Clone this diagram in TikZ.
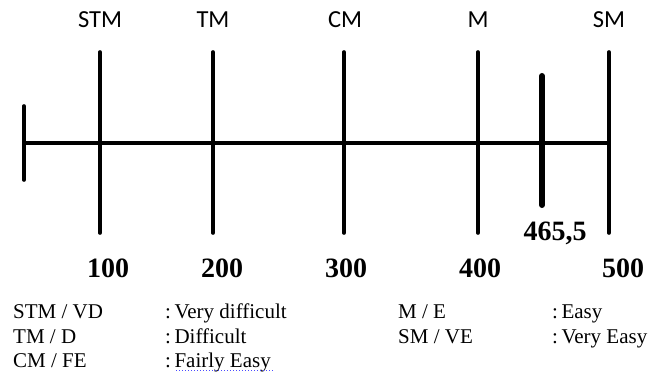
\documentclass[tikz,border=0pt]{standalone}
\usepackage{fontspec}
\setmainfont{Liberation Serif}
\newfontfamily\labelfont{Carlito}
\begin{document}
\begin{tikzpicture}[x=1pt,y=-1pt,
  tick/.style={line width=3.6pt,line cap=round},
  marker/.style={line width=6pt,line cap=round},
  axisline/.style={line width=3.6pt},
  toplabel/.style={anchor=base,inner sep=0pt,font=\labelfont\fontsize{24.5}{28}\selectfont},
  numlabel/.style={anchor=base,inner sep=0pt,font=\bfseries\fontsize{28}{32}\selectfont},
  legend/.style={anchor=base west,inner sep=0pt,font=\fontsize{21}{24}\selectfont}]
\useasboundingbox (0,0) rectangle (650,374);

% scale positions
\coordinate (L0) at (24,143);
\coordinate (L1) at (100,143);
\coordinate (L2) at (213,143);
\coordinate (L3) at (344,143);
\coordinate (L4) at (478,143);
\coordinate (L5) at (609,143);
\coordinate (R) at (542,143);

% main axis
\draw[axisline] (L0) -- (L5);
% start stop
\draw[tick] (24,106) -- (24,180);
% graduations
\foreach \p in {L1,L2,L3,L4,L5}
  \draw[tick] ([yshift=-90]\p) -- ([yshift=91]\p);
% result marker
\draw[marker] (542,76) -- (542,205);

% category labels
\node[toplabel] (tSTM) at (100,28) {STM};
\node[toplabel] (tTM)  at (213,28) {TM};
\node[toplabel] (tCM)  at (345,28) {CM};
\node[toplabel] (tM)   at (478,28) {M};
\node[toplabel] (tSM)  at (609,28) {SM};

% score values
\node[numlabel] (n1) at (108,277) {100};
\node[numlabel] (n2) at (222,277) {200};
\node[numlabel] (n3) at (346,277) {300};
\node[numlabel] (n4) at (480,277) {400};
\node[numlabel] (n5) at (623,277) {500};
\node[numlabel] (nr) at (555,240) {465,5};

% legend
\node[legend] (a1) at (13,318) {STM / VD};
\node[legend] (a2) at (13,343) {TM / D};
\node[legend] (a3) at (13,367) {CM / FE};
\node[legend] (b1) at (165,318) {:\,Very difficult};
\node[legend] (b2) at (165,343) {:\,Difficult};
\node[legend] (b3) at (165,367) {:\,Fairly Easy};
\node[legend] (c1) at (398,318) {M / E};
\node[legend] (c2) at (398,343) {SM / VE};
\node[legend] (d1) at (552,318) {:\,Easy};
\node[legend] (d2) at (552,343) {:\,Very Easy};
\draw[blue!70,line width=1pt,dotted] (176,370) -- (273,370);
\end{tikzpicture}
\end{document}
